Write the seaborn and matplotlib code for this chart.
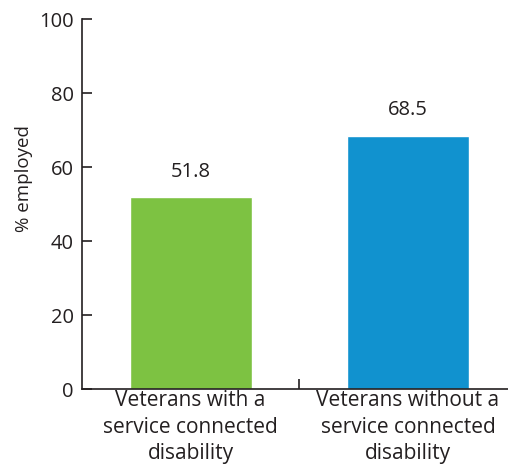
import matplotlib
matplotlib.use("Agg")
import matplotlib.pyplot as plt
import seaborn as sns
import pandas as pd

categories = ["Veterans with a\nservice connected\ndisability",
              "Veterans without a\nservice connected\ndisability"]
values = [51.8, 68.5]
colors = ["#7DC242", "#1192CF"]
yticks = [0, 20, 40, 60, 80, 100]

sns.set_theme(style="white")
plt.rcParams["font.family"] = ["Open Sans", "DejaVu Sans"]

df = pd.DataFrame({"group": categories, "pct": values})

fig = plt.figure(figsize=(5.08, 4.66), dpi=100)
ax = fig.add_axes([0.1614, 0.1652, 0.8386, 0.7940])

sns.barplot(data=df, x="group", y="pct", hue="group", palette=colors,
            width=0.562, legend=False, saturation=1, ax=ax)

for i, v in enumerate(values):
    ax.text(i, v + 6.8, f"{v:.1f}", ha="center", va="center",
            fontsize=14.5, color="#231f20")

ax.set_xlim(-0.5, 1.46)
ax.set_ylim(0, 100)
ax.set_yticks(yticks)
ax.set_xticks([0.5], minor=True)
ax.tick_params(axis="x", which="major", length=0, pad=1,
               labelsize=15, labelcolor="#231f20")
ax.tick_params(axis="x", which="minor", length=7, width=1.2,
               direction="in", color="#231f20", bottom=True)
ax.tick_params(axis="y", length=7, width=1.2, direction="in",
               labelsize=14.5, labelcolor="#231f20", color="#231f20", left=True, pad=6)
for lab in ax.get_xticklabels():
    lab.set_linespacing(1.34)

ax.set_xlabel("")
ax.set_ylabel("% employed", fontsize=13.5, color="#231f20")
ax.yaxis.set_label_coords(-0.115, 0.57)

for s in ["top", "right"]:
    ax.spines[s].set_visible(False)
for s in ["left", "bottom"]:
    ax.spines[s].set_color("#231f20")
    ax.spines[s].set_linewidth(1.2)

fig.savefig("out.png", dpi=100)
